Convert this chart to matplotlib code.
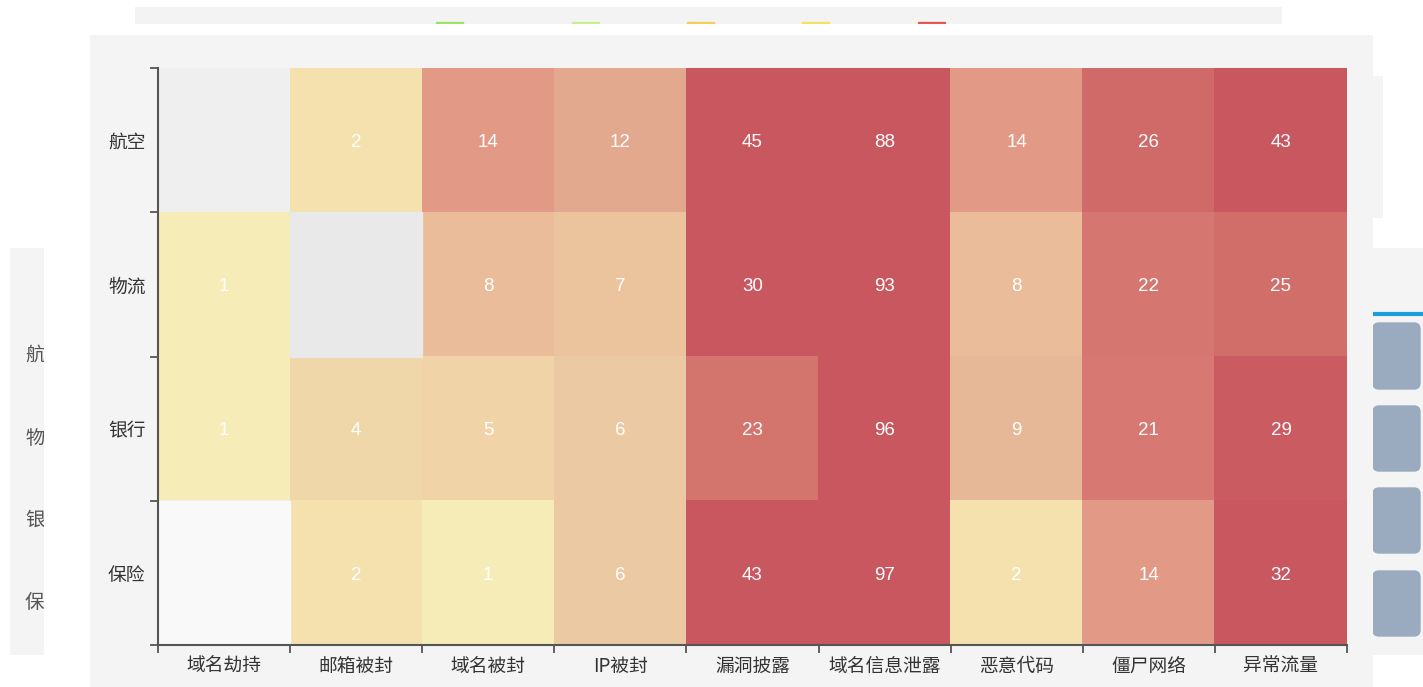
import numpy as np
import matplotlib
matplotlib.use("Agg")
import matplotlib.pyplot as plt
from matplotlib.colors import LinearSegmentedColormap, Normalize
from matplotlib.patches import Rectangle, FancyBboxPatch

plt.rcParams['font.family'] = ['Noto Sans CJK SC', 'DejaVu Sans']

# data
industries = ['航空', '物流', '银行', '保险']
events = ['域名劫持', '邮箱被封', '域名被封', 'IP被封', '漏洞披露',
          '域名信息泄露', '恶意代码', '僵尸网络', '异常流量']
hangkong = [np.nan, 2, 14, 12, 45, 88, 14, 26, 43]
wuliu = [1, np.nan, 8, 7, 30, 93, 8, 22, 25]
yinhang = [1, 4, 5, 6, 23, 96, 9, 21, 29]
baoxian = [np.nan, 2, 1, 6, 43, 97, 2, 14, 32]

values = np.array([hangkong, wuliu, yinhang, baoxian], dtype=float)

# colour scale (value -> colour)
stops = [(1, '#f5ecb7'), (2, '#f5e1ae'), (4, '#f0d7a9'), (5, '#f0d3a7'),
         (6, '#ebcba4'), (8, '#ebbc99'), (9, '#e7b898'), (12, '#e2aa8f'),
         (14, '#e29a87'), (21, '#d87a73'), (23, '#d4766e'), (26, '#d06b69'),
         (30, '#c9575f')]
vmin, vmax = 1, 30
cmap = LinearSegmentedColormap.from_list(
    'heat', [((v - vmin) / (vmax - vmin), c) for v, c in stops])
cmap.set_bad('#efefef')
norm = Normalize(vmin=vmin, vmax=vmax, clip=True)

W, H = 1423, 687
fig = plt.figure(figsize=(W / 100, H / 100), dpi=100)
fig.patch.set_facecolor('white')


def box(x0, y0, x1, y1):
    return [x0 / W, 1 - y1 / H, (x1 - x0) / W, (y1 - y0) / H]


def panel(x0, y0, x1, y1, color='#f4f4f4'):
    a = fig.add_axes(box(x0, y0, x1, y1))
    a.set_facecolor(color)
    a.set_xticks([])
    a.set_yticks([])
    for s in a.spines.values():
        s.set_visible(False)
    a.set_xlim(x0, x1)
    a.set_ylim(y1, y0)
    return a


# background pieces of the page behind the chart
top = panel(135, 7, 1282, 24, '#f3f3f3')
for x, c in zip([436, 572, 687, 802, 918],
                ['#8fe050', '#c0ee80', '#f5c842', '#f5e050', '#e0403a']):
    top.add_patch(Rectangle((x, 22.3), 27, 1.7, color=c, alpha=0.8))

left = panel(10, 248, 44, 655)
for lab, y in zip(industries, [355, 438, 520, 602]):
    left.text(25, y, lab, fontsize=14, color='#555555', ha='left', va='center',
              clip_on=True)

panel(1373, 76, 1383, 218)
right = panel(1373, 248, 1423, 655)
right.plot([1373, 1423], [314, 314], color='#1aa0d8', lw=3)
for y0, y1 in [(323, 389), (406, 471), (488, 553), (571, 636)]:
    right.add_patch(FancyBboxPatch((1373, y0), 47, y1 - y0,
                                   boxstyle='round,pad=0,rounding_size=6',
                                   color='#9aaabf', clip_on=True))

panel(90, 35, 1373, 687)

# heatmap
ax = fig.add_axes(box(158, 68, 1347, 645))
ax.set_facecolor('none')
ax.imshow(np.ma.masked_invalid(values), cmap=cmap, norm=norm, aspect='auto',
          interpolation='nearest')

# empty cells show slightly different greys in the screenshot
ax.add_patch(Rectangle((events.index('邮箱被封') - 0.5, industries.index('物流') - 0.5),
                       1, 1, color='#e9e9e9'))
ax.add_patch(Rectangle((events.index('域名劫持') - 0.5, industries.index('保险') - 0.5),
                       1, 1, color='#f9f9f9'))

for i in range(len(industries)):
    for j in range(len(events)):
        v = values[i, j]
        if not np.isnan(v):
            ax.text(j, i + 0.015, '%d' % v, ha='center', va='center', color='white',
                    fontsize=13.5, family=['Liberation Sans', 'DejaVu Sans'])

ax.set_xlim(-0.5, len(events) - 0.5)
ax.set_ylim(len(industries) - 0.5, -0.5)

ax.set_xticks(np.arange(len(events) + 1) - 0.5)
ax.set_xticklabels([])
ax.set_yticks(np.arange(len(industries) + 1) - 0.5)
ax.set_yticklabels([])
ax.set_xticks(np.arange(len(events)), minor=True)
ax.set_xticklabels(events, minor=True)
ax.set_yticks(np.arange(len(industries)), minor=True)
ax.set_yticklabels(industries, minor=True)
ax.tick_params(which='major', length=6, width=1.3, color='#555555', direction='out')
ax.tick_params(which='minor', length=0, labelsize=13.5, labelcolor='#333333')
ax.tick_params(axis='x', which='minor', pad=8)
ax.tick_params(axis='y', which='minor', pad=9)

for s in ['top', 'right']:
    ax.spines[s].set_visible(False)
for s in ['left', 'bottom']:
    ax.spines[s].set_color('#555555')
    ax.spines[s].set_linewidth(1.5)

fig.savefig('out.png', dpi=100)
